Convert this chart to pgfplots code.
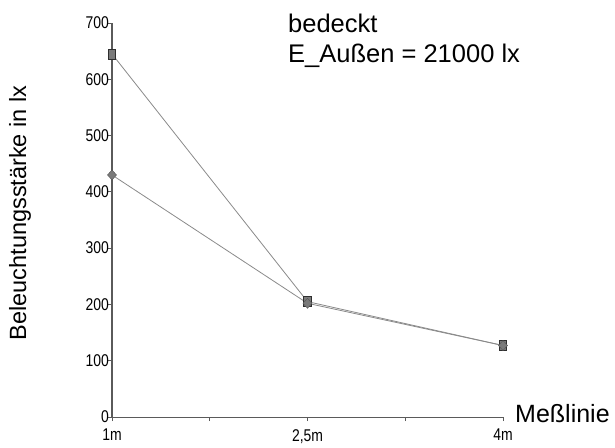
\documentclass[border=0pt]{standalone}
\usepackage{fontspec}
\setmainfont{Liberation Sans}
\newfontfamily\ticksfont[FakeStretch=0.82]{Liberation Sans}
\usepackage{pgfplots}
\pgfplotsset{compat=1.18}

\definecolor{axisgray}{HTML}{5A5A5A}
\definecolor{linegray}{HTML}{8A8A8A}
\definecolor{markgray}{HTML}{7A7A7A}
\definecolor{markedge}{HTML}{2E2E2E}

\begin{document}
\begin{tikzpicture}
\useasboundingbox (-112pt,-30pt) rectangle (503pt,417pt);
\begin{axis}[
  scale only axis,
  width=391pt, height=394pt,
  xmin=1, xmax=4, ymin=0, ymax=700,
  axis lines=left,
  axis line style={axisgray, line width=1.2pt, -},
  x axis line style={line width=0.9pt},
  tick align=outside,
  tick style={axisgray, line width=0.8pt},
  major tick length=4pt,
  xtick={1,1.75,2.5,3.25,4},
  xticklabels={1m,,{2,5m},,4m},
  ytick={0,100,...,700},
  /pgf/number format/assume math mode=true,
  tick label style={font=\ticksfont\fontsize{17}{17}\selectfont},
  xticklabel style={anchor=north, yshift=-8pt, inner sep=0pt},
  yticklabel style={xshift=2pt, inner sep=1pt},
  clip=false,
]
% Messreihe mit Quadrat-Markern
\addplot[linegray, line width=0.8pt, mark=square*, mark size=5pt,
  mark options={xscale=0.75, fill=markgray, draw=markedge, line width=0.6pt}]
  coordinates {(1,645) (2.5,205) (4,127)};
% Messreihe mit Rauten-Markern
\addplot[linegray, line width=0.8pt, mark=diamond*, mark size=5pt,
  mark options={xscale=1.2, fill=markgray, draw=markgray!70!black, line width=0.4pt}]
  coordinates {(1,430) (2.5,202) (4,127)};
\end{axis}
\node[rotate=90, font=\fontsize{23.5}{23.5}\selectfont] at (-92pt,204pt) {Beleuchtungsstärke in lx};
\node[anchor=base west, font=\fontsize{25.5}{25.5}\selectfont, inner sep=0pt] at (176pt,384pt) {bedeckt};
\node[anchor=base west, font=\fontsize{25.5}{25.5}\selectfont, inner sep=0pt] at (176pt,354pt) {E\_Außen = 21000 lx};
\node[anchor=base west, font=\fontsize{25}{25}\selectfont, inner sep=0pt] at (403pt,-5pt) {Meßlinie};
\end{tikzpicture}
\end{document}
